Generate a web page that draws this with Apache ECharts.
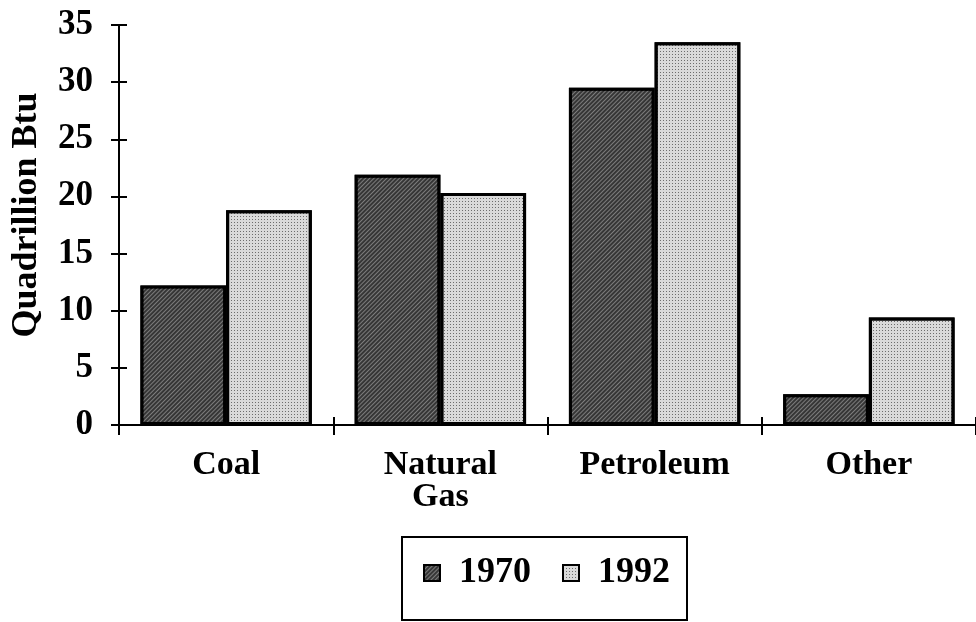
<!DOCTYPE html>
<html>
<head>
<meta charset="utf-8">
<script src="https://cdn.jsdelivr.net/npm/echarts@6/dist/echarts.min.js"></script>
<style>html,body{margin:0;padding:0;background:#fff}#c{width:976px;height:622px}</style>
</head>
<body>
<div id="c"></div>
<script>
const categories = ['Coal', 'Natural\nGas', 'Petroleum', 'Other'];
const values1970 = [12.2, 21.9, 29.5, 2.7];
const values1992 = [18.8, 20.3, 33.5, 9.4];
const seriesNames = ['1970', '1992'];
const yTicks = [0, 5, 10, 15, 20, 25, 30, 35];

const FONT = '"Liberation Serif", "Times New Roman", serif';
const chart = echarts.init(document.getElementById('c'), null, {renderer: 'canvas'});

const yBase = {
  type: 'value', min: yTicks[0], max: yTicks[yTicks.length - 1], interval: 5,
  splitLine: {show: false},
  axisLine: {show: true, lineStyle: {color: '#000', width: 2}}
};
const xBase = {
  type: 'category', data: categories,
  axisLine: {show: true, lineStyle: {color: '#000', width: 2}}
};

chart.setOption({
  backgroundColor: '#fff',
  animation: false,
  grid: {left: 119, right: 0, top: 25, bottom: 197, containLabel: false, outerBoundsMode: 'none'},
  xAxis: [
    Object.assign({}, xBase, {
      axisTick: {show: true, length: 10, lineStyle: {color: '#000', width: 2}},
      axisLabel: {
        margin: 24, color: '#000', fontFamily: FONT, fontWeight: 'bold', fontSize: 34,
        lineHeight: 32
      }
    }),
    Object.assign({}, xBase, {
      position: 'bottom', offset: 0,
      axisTick: {show: true, inside: true, length: 8, lineStyle: {color: '#000', width: 2}},
      axisLabel: {show: false}
    })
  ],
  yAxis: [
    Object.assign({}, yBase, {
      name: 'Quadrillion Btu', nameLocation: 'middle', nameRotate: 90, nameGap: 74,
      nameTextStyle: {color: '#000', fontFamily: FONT, fontWeight: 'bold', fontSize: 36,
                      padding: [0, 0, 0, 20]},
      axisTick: {show: true, length: 8, lineStyle: {color: '#000', width: 2}},
      axisLabel: {margin: 26, color: '#000', fontFamily: FONT, fontWeight: 'bold', fontSize: 35}
    }),
    Object.assign({}, yBase, {
      position: 'left', offset: 0,
      axisTick: {show: true, inside: true, length: 8, lineStyle: {color: '#000', width: 2}},
      axisLabel: {show: false}
    })
  ],
  graphic: [{
    type: 'rect', x: 402, y: 537,
    shape: {x: 0, y: 0, width: 285, height: 83},
    style: {fill: 'none', stroke: '#000', lineWidth: 2}
  }],
  legend: {
    left: 423, top: 555,
    data: seriesNames,
    icon: 'rect', itemWidth: 16, itemHeight: 16, itemGap: 31,
    padding: 0,
    textStyle: {color: '#000', fontFamily: FONT, fontWeight: 'bold', fontSize: 36,
                lineHeight: 34, padding: [0, 0, 0, 14]},
    itemStyle: {borderColor: '#000', borderWidth: 2}
  },
  series: [
    {
      name: seriesNames[0], type: 'bar', data: values1970,
      barGap: '0%', barCategoryGap: '20%',
      itemStyle: {
        color: '#363636', borderColor: '#000', borderWidth: 3,
        decal: {symbol: 'rect', symbolSize: 1, color: 'rgba(255,255,255,0.35)',
                dashArrayX: [1, 0], dashArrayY: [1, 2], rotation: -Math.PI / 4}
      }
    },
    {
      name: seriesNames[1], type: 'bar', data: values1992,
      barGap: '0%', barCategoryGap: '20%',
      itemStyle: {
        color: '#dadada', borderColor: '#000', borderWidth: 3,
        decal: {symbol: 'rect', symbolSize: 1, color: 'rgba(0,0,0,0.5)',
                dashArrayX: [1, 2], dashArrayY: [1, 2], rotation: 0}
      }
    }
  ]
});
</script>
</body>
</html>
